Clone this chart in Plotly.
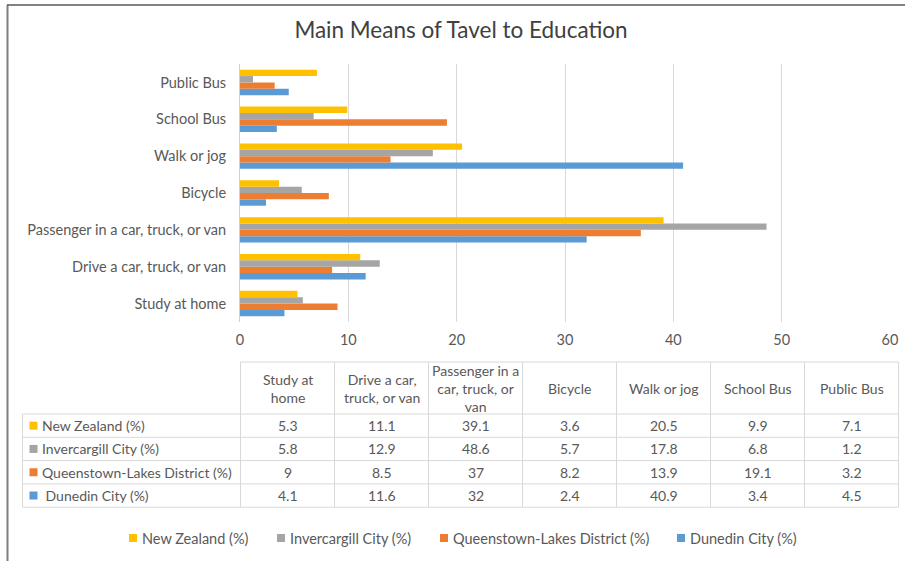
import plotly.graph_objects as go

# ---------------- data ----------------
categories = ["Study at home", "Drive a car, truck, or van", "Passenger in a car, truck, or van",
              "Bicycle", "Walk or jog", "School Bus", "Public Bus"]
table_headers = ["Study at<br>home", "Drive a car,<br>truck, or van", "Passenger in a<br>car, truck, or<br>van",
                 "Bicycle", "Walk or jog", "School Bus", "Public Bus"]

series_names = ["New Zealand (%)", "Invercargill City (%)", "Queenstown-Lakes District (%)", "Dunedin City (%)"]
table_row_labels = ["New Zealand (%)", "Invercargill City (%)", "Queenstown-Lakes District (%)", " Dunedin City (%)"]
new_zealand = [5.3, 11.1, 39.1, 3.6, 20.5, 9.9, 7.1]
invercargill = [5.8, 12.9, 48.6, 5.7, 17.8, 6.8, 1.2]
queenstown = [9, 8.5, 37, 8.2, 13.9, 19.1, 3.2]
dunedin = [4.1, 11.6, 32, 2.4, 40.9, 3.4, 4.5]
series_values = [new_zealand, invercargill, queenstown, dunedin]
colors = ["#FFC000", "#A5A5A5", "#ED7D31", "#5B9BD5"]

x_ticks = [0, 10, 20, 30, 40, 50, 60]

# ---------------- layout helpers ----------------
W, H = 905, 561
FONT = "Lato"
TXT = "#595959"


def px(x):
    return x / W


def py(y):
    return 1 - y / H


fig = go.Figure()

# Plotly draws the first horizontal-bar trace at the bottom of each group,
# so add in reverse (Dunedin at bottom, New Zealand at top).
for name, vals, col in reversed(list(zip(series_names, series_values, colors))):
    fig.add_trace(go.Bar(
        y=categories, x=vals, name=name, orientation="h",
        marker=dict(color=col, line=dict(width=0)),
        hoverinfo="x+name", showlegend=False,
    ))

shapes = []
annotations = []

# Frame (left and top borders of the Excel chart area)
shapes.append(dict(type="line", xref="paper", yref="paper", x0=px(7.5), x1=px(7.5), y0=py(5), y1=py(H),
                   line=dict(color="#7F7F7F", width=2)))
shapes.append(dict(type="line", xref="paper", yref="paper", x0=px(7), x1=1, y0=py(5), y1=py(5),
                   line=dict(color="#595959", width=1.5)))

# ---------------- data table ----------------
col_left = 240.5
col_w = 94
ncol = len(categories)
table_right = col_left + col_w * ncol
row_label_left = 22.5
header_top = 362
header_bot = 414
row_h = 23.3
nrow = len(series_names)
table_bot = header_bot + row_h * nrow
grid_col = "#D9D9D9"
TABLE_FS = 14


def hline(x0, x1, y):
    shapes.append(dict(type="line", xref="paper", yref="paper", x0=px(x0), x1=px(x1), y0=py(y), y1=py(y),
                       line=dict(color=grid_col, width=1)))


def vline(x, y0, y1):
    shapes.append(dict(type="line", xref="paper", yref="paper", x0=px(x), x1=px(x), y0=py(y0), y1=py(y1),
                       line=dict(color=grid_col, width=1)))


hline(col_left, table_right, header_top)
for r in range(nrow + 1):
    hline(row_label_left, table_right, header_bot + r * row_h)
for c in range(ncol + 1):
    vline(col_left + c * col_w, header_top, table_bot)
vline(row_label_left, header_bot, table_bot)

# Header labels
for c, lab in enumerate(table_headers):
    annotations.append(dict(xref="paper", yref="paper", x=px(col_left + (c + 0.5) * col_w),
                            y=py((header_top + header_bot) / 2), text=lab, showarrow=False,
                            xanchor="center", yanchor="middle", align="center",
                            font=dict(family=FONT, size=TABLE_FS, color=TXT)))

# Rows
for r, (lab, vals, col) in enumerate(zip(table_row_labels, series_values, colors)):
    yc = header_bot + (r + 0.5) * row_h
    shapes.append(dict(type="rect", xref="paper", yref="paper", x0=px(29.5), x1=px(37.5),
                       y0=py(yc - 4), y1=py(yc + 4), fillcolor=col, line=dict(width=0)))
    txt = ("&nbsp;" + lab[1:]) if lab.startswith(" ") else lab
    annotations.append(dict(xref="paper", yref="paper", x=px(40), y=py(yc), text=txt,
                            showarrow=False, xanchor="left", yanchor="middle",
                            font=dict(family=FONT, size=TABLE_FS, color=TXT)))
    for c, v in enumerate(vals):
        annotations.append(dict(xref="paper", yref="paper", x=px(col_left + (c + 0.5) * col_w), y=py(yc),
                                text=f"{v:g}", showarrow=False, xanchor="center", yanchor="middle",
                                font=dict(family=FONT, size=TABLE_FS, color=TXT)))

# ---------------- legend (Excel style, small square keys) ----------------
legend_key_x = [129, 277, 440, 677]
legend_y = 538
for name, col, kx in zip(series_names, colors, legend_key_x):
    shapes.append(dict(type="rect", xref="paper", yref="paper", x0=px(kx), x1=px(kx + 8),
                       y0=py(legend_y + 4), y1=py(legend_y - 4), fillcolor=col, line=dict(width=0)))
    annotations.append(dict(xref="paper", yref="paper", x=px(kx + 11), y=py(legend_y), text=name,
                            showarrow=False, xanchor="left", yanchor="middle",
                            font=dict(family=FONT, size=14.5, color=TXT)))

fig.update_layout(
    width=W, height=H, autosize=False,
    margin=dict(l=0, r=0, t=0, b=0, pad=0),
    paper_bgcolor="white", plot_bgcolor="white",
    font=dict(family=FONT, color=TXT, size=14),
    title=dict(text="Main Means of Tavel to Education", x=px(461), xanchor="center",
               y=py(30), yanchor="middle", xref="paper", yref="paper",
               font=dict(family=FONT, size=22.5, color="#404040")),
    barmode="group", bargap=0.31, bargroupgap=0,
    xaxis=dict(domain=[px(240), px(890)], range=[0, 60], tickvals=x_ticks, showgrid=True,
               gridcolor="#D9D9D9", gridwidth=1, zeroline=False, showline=False, ticks="",
               tickfont=dict(family=FONT, size=14.5, color=TXT), automargin=False,
               ticklabelstandoff=7, fixedrange=True),
    yaxis=dict(domain=[py(322), py(64)], type="category", categoryorder="array",
               categoryarray=categories, showgrid=False, zeroline=False, showline=True,
               linecolor="#D0D0D0", linewidth=1, ticks="", automargin=False,
               tickfont=dict(family=FONT, size=14.5, color=TXT), ticklabelstandoff=10,
               fixedrange=True),
    showlegend=False,
    shapes=shapes, annotations=annotations,
)

fig.write_html("out.html", config={"displayModeBar": False},
               post_script="document.body.style.margin='0';document.body.style.overflow='hidden';")
